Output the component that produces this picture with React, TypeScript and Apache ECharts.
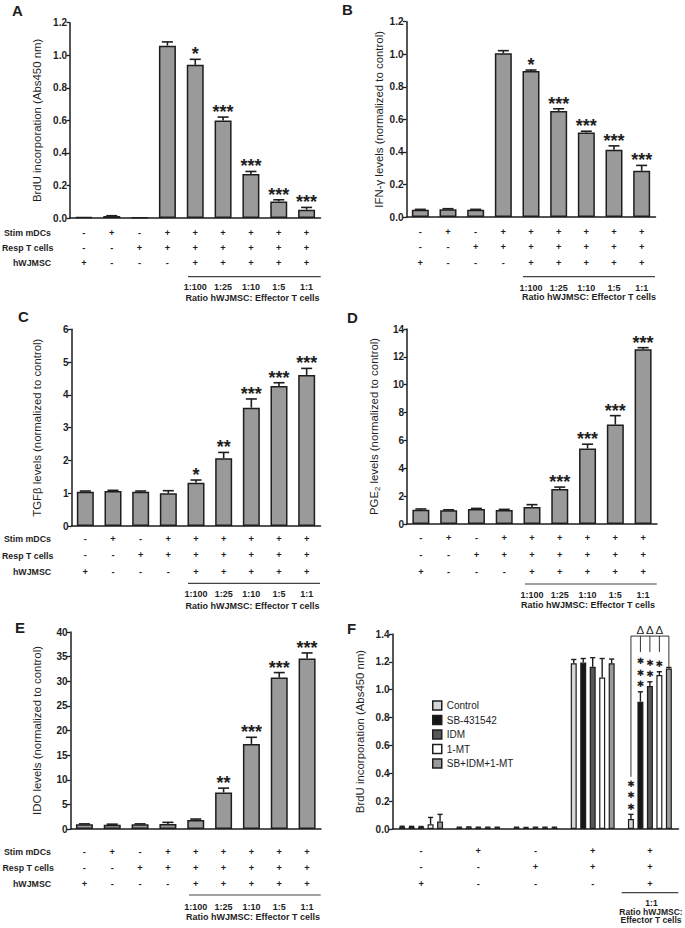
import React, { useEffect, useRef } from 'react';
import * as echarts from 'echarts';

const FONT = '"Liberation Sans", Arial, Helvetica, sans-serif';
const INK = '#1e1e1e';
const BAR = '#9a9a9a';

// ---------- shared condition table ----------
const categories = ['hWJMSC', 'Stim mDCs', 'Resp T cells', 'mDCs + T cells', '1:100', '1:25', '1:10', '1:5', '1:1'];
const stimRow = ['-', '+', '-', '+', '+', '+', '+', '+', '+'];
const respRow = ['-', '-', '+', '+', '+', '+', '+', '+', '+'];
const wjRow = ['+', '-', '-', '-', '+', '+', '+', '+', '+'];
const ratioRow = ['', '', '', '', '1:100', '1:25', '1:10', '1:5', '1:1'];

// ---------- panel A: BrdU ----------
const brduValues = [0.005, 0.012, 0.004, 1.059, 0.941, 0.599, 0.27, 0.102, 0.051];
const brduErrors = [0, 0.002, 0, 0.023, 0.034, 0.021, 0.016, 0.01, 0.014];
const brduStars = ['', '', '', '', '*', '***', '***', '***', '***'];

// ---------- panel B: IFN-gamma ----------
const ifnValues = [0.045, 0.048, 0.045, 1.006, 0.897, 0.652, 0.519, 0.413, 0.284];
const ifnErrors = [0.002, 0.003, 0.002, 0.016, 0.006, 0.013, 0.008, 0.024, 0.033];
const ifnStars = ['', '', '', '', '*', '***', '***', '***', '***'];

// ---------- panel C: TGF-beta ----------
const tgfValues = [1.047, 1.068, 1.047, 0.997, 1.322, 2.064, 3.61, 4.27, 4.607];
const tgfErrors = [0.02, 0.02, 0.02, 0.08, 0.08, 0.18, 0.265, 0.1, 0.2];
const tgfStars = ['', '', '', '', '*', '**', '***', '***', '***'];

// ---------- panel D: PGE2 ----------
const pgeValues = [1.03, 0.98, 1.07, 1.0, 1.22, 2.51, 5.42, 7.14, 12.54];
const pgeErrors = [0.05, 0.04, 0.05, 0.05, 0.17, 0.14, 0.31, 0.64, 0.12];
const pgeStars = ['', '', '', '', '', '***', '***', '***', '***'];

// ---------- panel E: IDO ----------
const idoValues = [0.94, 0.88, 0.94, 1.01, 1.82, 7.42, 17.27, 30.76, 34.6];
const idoErrors = [0.1, 0.1, 0.1, 0.34, 0.2, 0.88, 1.35, 1.0, 1.15];
const idoStars = ['', '', '', '', '', '**', '***', '***', '***'];

// ---------- panel F: inhibitors ----------
const fGroups = ['hWJMSC', 'Stim mDCs', 'Resp T cells', 'mDCs + T cells', '1:1'];
const fStimRow = ['-', '+', '-', '+', '+'];
const fRespRow = ['-', '-', '+', '+', '+'];
const fWjRow = ['+', '-', '-', '-', '+'];
const fSeriesNames = ['Control', 'SB-431542', 'IDM', '1-MT', 'SB+IDM+1-MT'];
const fSeriesColors = ['#d6d6d6', '#161616', '#575757', '#ffffff', '#9a9a9a'];
const fControl = [0.015, 0.01, 0.01, 1.19, 0.072];
const fControlErr = [0.005, 0.003, 0.003, 0.027, 0.033];
const fSB = [0.015, 0.012, 0.008, 1.195, 0.914];
const fSBErr = [0.004, 0.003, 0.003, 0.029, 0.071];
const fIDM = [0.014, 0.01, 0.01, 1.165, 1.027];
const fIDMErr = [0.004, 0.003, 0.003, 0.065, 0.03];
const fMT = [0.034, 0.01, 0.01, 1.087, 1.105];
const fMTErr = [0.049, 0.003, 0.003, 0.137, 0.024];
const fComb = [0.053, 0.01, 0.01, 1.19, 1.152];
const fCombErr = [0.052, 0.003, 0.003, 0.03, 0.008];
const fStarCounts = [
  [0, 0, 0, 0, 3],
  [0, 0, 0, 0, 3],
  [0, 0, 0, 0, 2],
  [0, 0, 0, 0, 1],
  [0, 0, 0, 0, 0],
];
const fBracketTop = 1.385;
const fBracketFeet = [0.375, 1.27, 1.27, 1.27, 1.165];
const fDeltaLevel = 1.43;
const fDeltaBars = [1, 2, 3];

type Panel = {
  grid: { left: number; top: number; width: number; height: number };
  max: number;
  interval: number;
  decimals: number;
  name: string;
  nameGap: number;
  values: number[];
  errors: number[];
  stars: string[];
  margin: number;
  rowLH: number;
  ratioLH: number;
};

const panels: Panel[] = [
  { grid: { left: 70, top: 22.7, width: 250.5, height: 195.3 }, max: 1.2, interval: 0.2, decimals: 1,
    name: 'BrdU incorporation (Abs450 nm)', nameGap: 26.5, values: brduValues, errors: brduErrors, stars: brduStars,
    margin: 7, rowLH: 15.3, ratioLH: 32.8 },
  { grid: { left: 406.5, top: 21.7, width: 249, height: 195.3 }, max: 1.2, interval: 0.2, decimals: 1,
    name: 'IFN-γ levels (normalized to control)', nameGap: 21, values: ifnValues, errors: ifnErrors, stars: ifnStars,
    margin: 6.8, rowLH: 15.8, ratioLH: 33 },
  { grid: { left: 71.5, top: 329.3, width: 249, height: 196.7 }, max: 6, interval: 1, decimals: 0,
    name: 'TGFβ levels (normalized to control)', nameGap: 27.5, values: tgfValues, errors: tgfErrors, stars: tgfStars,
    margin: 5.2, rowLH: 16.2, ratioLH: 28.4 },
  { grid: { left: 407, top: 329, width: 250, height: 195 }, max: 14, interval: 2, decimals: 0,
    name: 'PGE{sub|2} levels (normalized to control)', nameGap: 26, values: pgeValues, errors: pgeErrors, stars: pgeStars,
    margin: 6, rowLH: 16.7, ratioLH: 30 },
  { grid: { left: 70.5, top: 632, width: 250.5, height: 197 }, max: 40, interval: 5, decimals: 0,
    name: 'IDO levels (normalized to control)', nameGap: 26.5, values: idoValues, errors: idoErrors, stars: idoStars,
    margin: 15.4, rowLH: 15.85, ratioLH: 29.4 },
];

const fGrid = { left: 392.5, top: 634, width: 286, height: 195 };

function textStyle(size: number, weight: string = 'bold', align: string = 'center', valign: string = 'middle', family: string = FONT) {
  return {
    fill: INK,
    fontSize: size,
    fontWeight: weight,
    fontFamily: family,
    align,
    verticalAlign: valign,
    textAlign: align,
    textVerticalAlign: valign,
  };
}

function yAxisFor(i: number, p: { max: number; interval: number; decimals: number; name: string; nameGap: number }) {
  return {
    type: 'value',
    gridIndex: i,
    min: 0,
    max: p.max,
    interval: p.interval,
    name: p.name,
    nameLocation: 'middle',
    nameGap: p.nameGap,
    nameTextStyle: {
      fontSize: 11.4,
      color: INK,
      fontFamily: FONT,
      lineHeight: 14,
      rich: { sub: { fontSize: 7.8, color: INK, fontFamily: FONT, verticalAlign: 'bottom', lineHeight: 8 } },
    },
    axisLine: { show: true, lineStyle: { color: INK, width: 1.5 } },
    axisTick: { show: true, length: 3.5, lineStyle: { color: INK, width: 1.3 } },
    axisLabel: {
      fontSize: 10,
      fontWeight: 'bold',
      color: INK,
      fontFamily: FONT,
      margin: 3,
      formatter: (v: number) => v.toFixed(p.decimals),
    },
    splitLine: { show: false },
  };
}

function errRender(stars: string[]) {
  return (params: any, api: any) => {
    const i = api.value(0);
    const v = api.value(1);
    const e = api.value(2);
    const p0 = api.coord([i, v]);
    const p1 = api.coord([i, v + e]);
    const children: any[] = [];
    if (e > 0) {
      children.push({ type: 'line', shape: { x1: p0[0], y1: p0[1], x2: p1[0], y2: p1[1] }, style: { stroke: INK, lineWidth: 1.6 } });
      children.push({ type: 'line', shape: { x1: p1[0] - 5.5, y1: p1[1], x2: p1[0] + 5.5, y2: p1[1] }, style: { stroke: INK, lineWidth: 1.6 } });
    }
    const s = stars[params.dataIndex];
    if (s) {
      children.push({ type: 'text', x: p1[0], y: p1[1] - 5, style: { text: s, ...textStyle(18) } });
    }
    return { type: 'group', children };
  };
}

const F_SPACING = 9.48;

function buildOption() {
  const grid: any[] = [];
  const xAxis: any[] = [];
  const yAxis: any[] = [];
  const series: any[] = [];

  panels.forEach((p, i) => {
    grid.push({ ...p.grid, containLabel: false, outerBoundsMode: 'none' });
    xAxis.push({
      type: 'category',
      gridIndex: i,
      data: categories,
      axisLine: { show: true, lineStyle: { color: INK, width: 1.5 } },
      axisTick: { show: false },
      splitLine: { show: false },
      axisLabel: {
        interval: 0,
        margin: p.margin,
        color: INK,
        formatter: (_v: string, idx: number) => {
          let s = `{s|${stimRow[idx]}}\n{s|${respRow[idx]}}\n{s|${wjRow[idx]}}`;
          if (ratioRow[idx]) s += `\n{r|${ratioRow[idx]}}`;
          return s;
        },
        rich: {
          s: { fontSize: 9.3, fontWeight: 'bold', color: INK, fontFamily: FONT, lineHeight: p.rowLH },
          r: { fontSize: 9, fontWeight: 'bold', color: INK, fontFamily: FONT, lineHeight: p.ratioLH },
        },
      },
    });
    yAxis.push(yAxisFor(i, p));
    series.push({
      type: 'bar',
      xAxisIndex: i,
      yAxisIndex: i,
      data: p.values,
      barWidth: 17,
      silent: true,
      itemStyle: { color: BAR, borderColor: INK, borderWidth: 1.5 },
    });
    series.push({
      type: 'custom',
      xAxisIndex: i,
      yAxisIndex: i,
      data: p.values.map((v, j) => [j, v, p.errors[j]]),
      encode: { x: 0, y: 1 },
      renderItem: errRender(p.stars),
      clip: false,
      silent: true,
      z: 3,
    });
  });

  // ---------- panel F ----------
  const fi = panels.length;
  grid.push({ ...fGrid, containLabel: false, outerBoundsMode: 'none' });
  xAxis.push({
    type: 'category',
    gridIndex: fi,
    data: fGroups,
    axisLine: { show: true, lineStyle: { color: INK, width: 1.5 } },
    axisTick: { show: false },
    splitLine: { show: false },
    axisLabel: {
      interval: 0,
      margin: 13.3,
      color: INK,
      formatter: (_v: string, idx: number) => `{s|${fStimRow[idx]}}\n{s|${fRespRow[idx]}}\n{s|${fWjRow[idx]}}`,
      rich: { s: { fontSize: 9.3, fontWeight: 'bold', color: INK, fontFamily: FONT, lineHeight: 16.7 } },
    },
  });
  yAxis.push(yAxisFor(fi, { max: 1.4, interval: 0.2, decimals: 1, name: 'BrdU incorporation (Abs450 nm)', nameGap: 26 }));

  const fVals = [fControl, fSB, fIDM, fMT, fComb];
  const fErrs = [fControlErr, fSBErr, fIDMErr, fMTErr, fCombErr];
  fVals.forEach((vals, k) => {
    series.push({
      type: 'bar',
      name: fSeriesNames[k],
      xAxisIndex: fi,
      yAxisIndex: fi,
      data: vals,
      barWidth: 6,
      barGap: '58%',
      silent: true,
      itemStyle: { color: fSeriesColors[k], borderColor: INK, borderWidth: 1.2 },
    });
  });
  const fErrData: number[][] = [];
  fVals.forEach((vals, k) => vals.forEach((v, g) => fErrData.push([g, k, v, fErrs[k][g], fStarCounts[k][g]])));
  series.push({
    type: 'custom',
    xAxisIndex: fi,
    yAxisIndex: fi,
    data: fErrData,
    encode: { x: 0, y: 2 },
    clip: false,
    silent: true,
    z: 3,
    renderItem: (_params: any, api: any) => {
      const g = api.value(0);
      const k = api.value(1);
      const v = api.value(2);
      const e = api.value(3);
      const n = api.value(4);
      const dx = (k - 2) * F_SPACING;
      const p0 = api.coord([g, v]);
      const p1 = api.coord([g, v + e]);
      const x = p0[0] + dx;
      const children: any[] = [
        { type: 'line', shape: { x1: x, y1: p0[1], x2: x, y2: p1[1] }, style: { stroke: INK, lineWidth: 1.4 } },
        { type: 'line', shape: { x1: x - 2.6, y1: p1[1], x2: x + 2.6, y2: p1[1] }, style: { stroke: INK, lineWidth: 1.4 } },
      ];
      for (let s = 0; s < n; s++) {
        children.push({
          type: 'text',
          x,
          y: p1[1] - 7.6 - s * 11.5,
          style: { text: '✱', ...textStyle(9, 'normal', 'center', 'middle', '"DejaVu Sans", sans-serif') },
        });
      }
      return { type: 'group', children };
    },
  });
  // significance bracket
  series.push({
    type: 'custom',
    xAxisIndex: fi,
    yAxisIndex: fi,
    data: [[4, fBracketTop]],
    encode: { x: 0, y: 1 },
    clip: false,
    silent: true,
    z: 3,
    renderItem: (_params: any, api: any) => {
      const g = api.value(0);
      const top = api.coord([g, api.value(1)]);
      const xs = [0, 1, 2, 3, 4].map((k) => top[0] + (k - 2) * F_SPACING);
      const children: any[] = [
        { type: 'line', shape: { x1: xs[0], y1: top[1], x2: xs[4], y2: top[1] }, style: { stroke: '#333', lineWidth: 1 } },
      ];
      xs.forEach((x, k) => {
        const foot = api.coord([g, fBracketFeet[k]]);
        children.push({ type: 'line', shape: { x1: x, y1: top[1], x2: x, y2: foot[1] }, style: { stroke: '#333', lineWidth: 1 } });
      });
      const dy = api.coord([g, fDeltaLevel])[1];
      fDeltaBars.forEach((k) => {
        children.push({ type: 'text', x: xs[k], y: dy, style: { text: 'Δ', ...textStyle(11.5, 'normal') } });
      });
      return { type: 'group', children };
    },
  });

  // ---------- annotations ----------
  const graphic: any[] = [];
  const letters: [string, number, number][] = [
    ['A', 12, 10], ['B', 342, 9], ['C', 18, 316], ['D', 347, 317.5], ['E', 15, 627.5], ['F', 347, 628],
  ];
  letters.forEach(([t, x, y]) => graphic.push({ type: 'text', x, y, style: { text: t, ...textStyle(15, 'bold', 'left') } }));

  const rowNames: [string, number, number][] = [
    ['Stim mDCs', 4, 232.7], ['Resp T cells', 2, 248.3], ['hWJMSC', 13, 263.3],
    ['Stim mDCs', 4, 539.3], ['Resp T cells', 2, 556], ['hWJMSC', 13, 571.7],
    ['Stim mDCs', 4, 852.3], ['Resp T cells', 2.5, 868.3], ['hWJMSC', 13, 884],
  ];
  rowNames.forEach(([t, x, y]) => graphic.push({ type: 'text', x, y, style: { text: t, ...textStyle(8.8, 'bold', 'left') } }));

  const ratioTitles: [number, number][] = [[252.5, 298], [589, 297], [252.5, 606], [588, 605], [253, 917]];
  ratioTitles.forEach(([x, y]) => graphic.push({ type: 'text', x, y, style: { text: 'Ratio hWJMSC: Effector T cells', ...textStyle(9) } }));

  graphic.push({ type: 'text', x: 651.5, y: 903.3, style: { text: '1:1', ...textStyle(8.5) } });
  graphic.push({ type: 'text', x: 651, y: 911.5, style: { text: 'Ratio hWJMSC:', ...textStyle(8.5) } });
  graphic.push({ type: 'text', x: 651, y: 920.3, style: { text: 'Effector T cells', ...textStyle(8.5) } });

  const underlines: [number, number, number][] = [
    [188, 320.7, 276.7], [523, 655, 276.7], [188, 320, 583.3], [525, 656.7, 584], [189, 320.7, 895], [621.7, 678.3, 892.7],
  ];
  underlines.forEach(([x1, x2, y]) => graphic.push({ type: 'line', shape: { x1, y1: y, x2, y2: y }, style: { stroke: '#444', lineWidth: 1.2 } }));

  return {
    animation: false,
    backgroundColor: '#ffffff',
    textStyle: { fontFamily: FONT },
    grid,
    xAxis,
    yAxis,
    series,
    legend: {
      data: fSeriesNames,
      orient: 'vertical',
      left: 432,
      top: 699.5,
      padding: 0,
      itemWidth: 9,
      itemHeight: 9,
      itemGap: 2.5,
      icon: 'rect',
      selectedMode: false,
      textStyle: { fontSize: 10, lineHeight: 12, color: INK, fontFamily: FONT },
      itemStyle: { borderColor: INK, borderWidth: 1.5 },
    },
    graphic,
  };
}

export default function App() {
  const ref = useRef<HTMLDivElement>(null);
  useEffect(() => {
    if (!ref.current) return;
    const chart = echarts.init(ref.current, undefined, { renderer: 'svg' });
    chart.setOption(buildOption() as any);
    return () => chart.dispose();
  }, []);
  return (
    <div
      ref={ref}
      style={{ position: 'absolute', left: 0, top: 0, width: 685, height: 928, background: '#fff' }}
    />
  );
}
